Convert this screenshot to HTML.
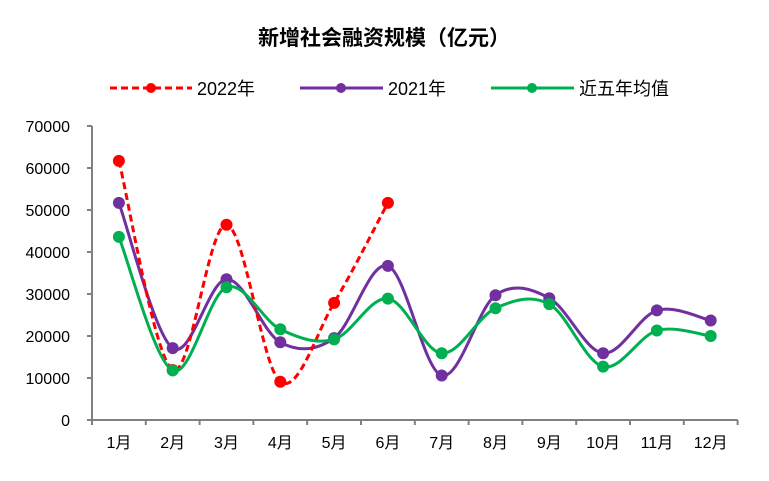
<!DOCTYPE html>
<html><head><meta charset="utf-8"><style>
body{margin:0;background:#fff;width:769px;height:476px;overflow:hidden}
text{font-family:"Liberation Sans","Noto Sans CJK SC",sans-serif;fill:#000}
</style></head><body>
<svg id="s" width="769" height="476" xmlns="http://www.w3.org/2000/svg">
<text x="384" y="45" font-size="21" font-weight="bold" text-anchor="middle" font-family="Noto Sans CJK SC, sans-serif">新增社会融资规模（亿元）</text>
<g font-size="18">
<line x1="110" y1="88" x2="192" y2="88" stroke="#f00" stroke-width="3" stroke-dasharray="7,4"/><circle cx="151" cy="88" r="5" fill="#f00"/>
<text x="197" y="95">2022年</text>
<line x1="300" y1="88" x2="383" y2="88" stroke="#7030a0" stroke-width="3"/><circle cx="341" cy="88" r="5" fill="#7030a0"/>
<text x="388" y="95">2021年</text>
<line x1="491" y1="88" x2="574" y2="88" stroke="#00b050" stroke-width="3"/><circle cx="532" cy="88" r="5" fill="#00b050"/>
<text x="579" y="95">近五年均值</text>
</g>
<g id="axes" stroke="#808080" stroke-width="2" fill="none"></g>
<g id="lab" font-size="16"></g>
<g id="ser"></g>
</svg>
<script>
var ns="http://www.w3.org/2000/svg",X0=92,Y0=420,dx=53.8,k=42/10000;
function el(p,t,a,txt){var e=document.createElementNS(ns,t);for(var i in a)e.setAttribute(i,a[i]);if(txt)e.textContent=txt;p.appendChild(e);return e;}
var ax=document.getElementById('axes'),lab=document.getElementById('lab');
el(ax,'line',{x1:X0,y1:126,x2:X0,y2:Y0});el(ax,'line',{x1:X0,y1:Y0,x2:X0+12*dx,y2:Y0});
for(var i=0;i<=7;i++){var y=Y0-i*42;el(ax,'line',{x1:X0-5,y1:y,x2:X0,y2:y});el(lab,'text',{x:70,y:y+6,'text-anchor':'end'},String(i*10000));}
for(var i=0;i<=12;i++){var x=X0+i*dx;el(ax,'line',{x1:x,y1:Y0,x2:x,y2:Y0+5});}
for(var i=0;i<12;i++){el(lab,'text',{x:X0+dx*(i+0.5),y:448,'text-anchor':'middle'},(i+1)+'月');}
function path(d){var p=d.map(function(v,i){return [X0+dx*(i+0.5),Y0-v*k]});var s='M'+p[0][0]+','+p[0][1];
for(var i=0;i<p.length-1;i++){var a=p[i-1]||p[i],b=p[i],c=p[i+1],e=p[i+2]||c;
s+=' C'+(b[0]+(c[0]-a[0])/6)+','+(b[1]+(c[1]-a[1])/6)+' '+(c[0]-(e[0]-b[0])/6)+','+(c[1]-(e[1]-b[1])/6)+' '+c[0]+','+c[1];}return [s,p];}
var S=document.getElementById('ser');
function series(d,col,dash){var r=path(d);var a={d:r[0],fill:'none',stroke:col,'stroke-width':3};if(dash)a['stroke-dasharray']='7,4';el(S,'path',a);r[1].forEach(function(q){el(S,'circle',{cx:q[0],cy:q[1],r:6,fill:col});});}
series([51700,17100,33500,18500,19500,36700,10600,29700,29000,15900,26100,23700],'#7030a0');
series([61700,11900,46500,9100,27900,51700],'#ff0000',true);
series([43600,11800,31600,21600,19200,28900,15900,26600,27600,12700,21300,20000],'#00b050');
</script>
</body></html>
